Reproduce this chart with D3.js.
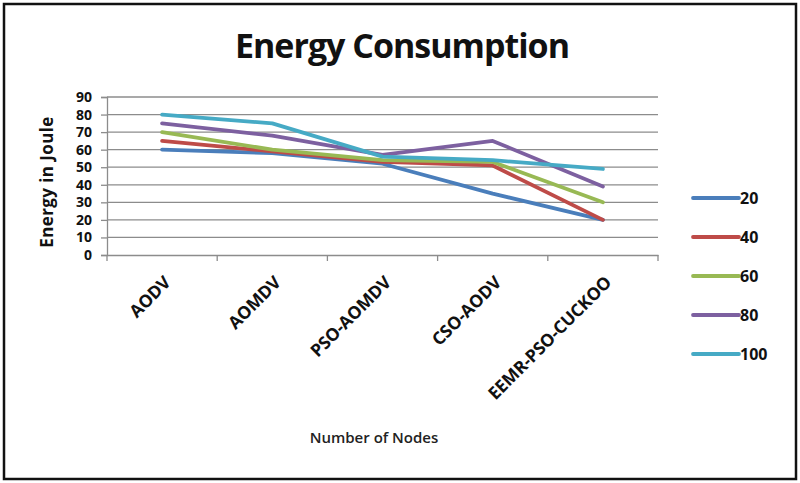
<!DOCTYPE html>
<meta charset="utf-8">
<body style="margin:0;background:#fff">
<script src="https://cdnjs.cloudflare.com/ajax/libs/d3/7.8.5/d3.min.js"></script>
<div id="chart"></div>
<script>
// categories and series
var protocols = ["AODV", "AOMDV", "PSO-AOMDV", "CSO-AODV", "EEMR-PSO-CUCKOO"];
var seriesNames = ["20", "40", "60", "80", "100"];
var nodes20  = [60, 58, 52, 35, 20];
var nodes40  = [65, 59, 53, 51, 20];
var nodes60  = [70, 60, 54, 53, 30];
var nodes80  = [75, 68, 57, 65, 39];
var nodes100 = [80, 75, 56, 54, 49];
var yTicks = [0, 10, 20, 30, 40, 50, 60, 70, 80, 90];
var colors = ["#4a7ebb", "#be4b48", "#98b954", "#7d60a0", "#46aac5"];

var series = [nodes20, nodes40, nodes60, nodes80, nodes100];

var width = 800, height = 483;
var plotLeft = 107, plotRight = 658, plotTop = 97, plotBottom = 255;
var font = "'Open Sans', sans-serif";

var svg = d3.select("#chart").append("svg")
    .attr("width", width)
    .attr("height", height)
    .style("font-family", font);

// outer frame
svg.append("rect")
    .attr("x", 4).attr("y", 4)
    .attr("width", 792).attr("height", 475)
    .attr("fill", "white")
    .attr("stroke", "#111")
    .attr("stroke-width", 2.5);

svg.append("text")
    .attr("x", 402).attr("y", 58)
    .attr("text-anchor", "middle")
    .style("font-size", "34px")
    .style("font-weight", "bold")
    .style("letter-spacing", "-1px")
    .attr("fill", "#111")
    .text("Energy Consumption");

var x = d3.scaleBand()
    .domain(protocols)
    .range([plotLeft, plotRight]);

var y = d3.scaleLinear()
    .domain([0, 90])
    .range([plotBottom, plotTop]);

// gridlines
svg.append("g")
    .selectAll("line")
    .data(yTicks.slice(1))
    .join("line")
    .attr("x1", plotLeft).attr("x2", plotRight)
    .attr("y1", d => y(d)).attr("y2", d => y(d))
    .attr("stroke", "#8c8c8c")
    .attr("stroke-width", 1.3);

// Y axis
var yAxis = svg.append("g")
    .attr("transform", `translate(${plotLeft},0)`)
    .call(d3.axisLeft(y).tickValues(yTicks).tickSize(6).tickPadding(9));
yAxis.selectAll("text")
    .style("font-size", "14px")
    .style("font-weight", "bold")
    .style("font-family", font)
    .attr("fill", "#111");
yAxis.selectAll("line, path").attr("stroke", "#8c8c8c").attr("stroke-width", 1.3);

// X axis
var xAxis = svg.append("g")
    .attr("transform", `translate(0,${plotBottom})`)
    .call(d3.axisBottom(x).tickSize(0).tickFormat(""));
xAxis.select("path").attr("stroke", "#8c8c8c").attr("stroke-width", 1.3);
xAxis.selectAll(".sep")
    .data(d3.range(protocols.length + 1))
    .join("line")
    .attr("class", "sep")
    .attr("x1", i => plotLeft + i * x.bandwidth())
    .attr("x2", i => plotLeft + i * x.bandwidth())
    .attr("y1", 0).attr("y2", 6)
    .attr("stroke", "#8c8c8c")
    .attr("stroke-width", 1.3);

svg.append("g")
    .selectAll("text")
    .data(protocols)
    .join("text")
    .attr("transform", d => `translate(${x(d) + x.bandwidth() / 2 + 1},${plotBottom + 20}) rotate(-45)`)
    .attr("text-anchor", "end")
    .attr("dy", "0.7em")
    .style("font-size", "17.5px")
    .style("font-weight", "bold")
    .style("letter-spacing", "-0.2px")
    .attr("fill", "#111")
    .text(d => d);

// axis titles
svg.append("text")
    .attr("transform", "translate(53,182) rotate(-90)")
    .attr("text-anchor", "middle")
    .style("font-size", "17px")
    .style("font-weight", "bold")
    .style("letter-spacing", "0.4px")
    .attr("fill", "#111")
    .text("Energy in Joule");

svg.append("text")
    .attr("x", 374).attr("y", 443)
    .attr("text-anchor", "middle")
    .style("font-size", "15px")
    .style("font-weight", "600")
    .attr("fill", "#222")
    .text("Number of Nodes");

// lines
var line = d3.line()
    .x((d, i) => x(protocols[i]) + x.bandwidth() / 2)
    .y(d => y(d));

svg.append("g")
    .selectAll("path")
    .data(series)
    .join("path")
    .attr("d", d => line(d))
    .attr("fill", "none")
    .attr("stroke", (d, i) => colors[i])
    .attr("stroke-width", 3.8)
    .attr("stroke-linejoin", "round")
    .attr("stroke-linecap", "round");

// legend
var legend = svg.append("g")
    .selectAll("g")
    .data(seriesNames)
    .join("g")
    .attr("transform", (d, i) => `translate(693,${198 + i * 39})`);
legend.append("line")
    .attr("x1", 0).attr("x2", 46)
    .attr("stroke", (d, i) => colors[i])
    .attr("stroke-width", 3.8)
    .attr("stroke-linecap", "round");
legend.append("text")
    .attr("x", 47).attr("dy", "0.36em")
    .style("font-size", "16px")
    .style("font-weight", "bold")
    .attr("fill", "#111")
    .text(d => d);
</script>
</body>
